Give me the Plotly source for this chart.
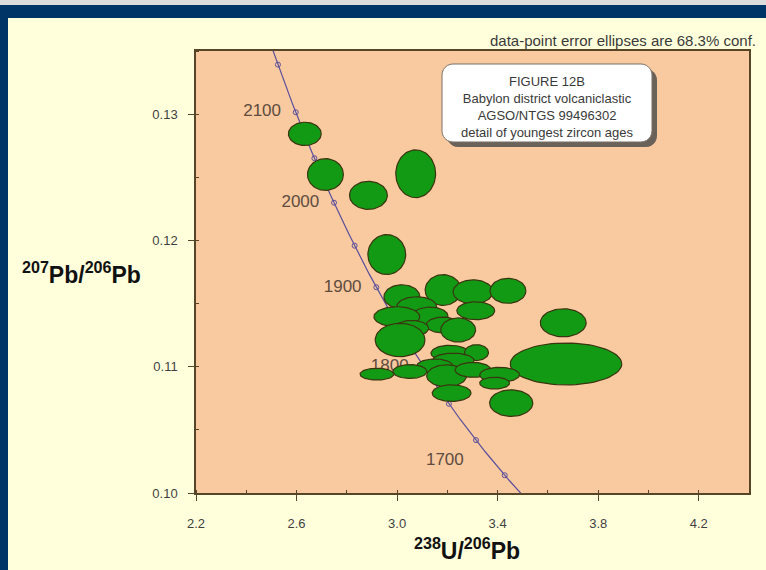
import numpy as np
import plotly.graph_objects as go

# ---------------- data ----------------
# error ellipses: centre (238U/206Pb, 207Pb/206Pb) and half-axes
ell_x = [2.633, 2.715, 2.886, 3.074, 2.959,
         3.183, 3.302, 3.441, 3.313, 3.019, 3.078, 3.131, 2.999, 3.183, 3.243, 3.058, 3.012,
         3.661, 3.672,
         3.210, 3.316, 3.223, 3.150, 2.920, 3.051, 3.197, 3.302, 3.408, 3.388, 3.217, 3.454]
ell_y = [0.12844, 0.12522, 0.12357, 0.12528, 0.11888,
         0.11607, 0.11593, 0.11601, 0.11443, 0.11554, 0.11475, 0.11401, 0.11396, 0.11330, 0.11291, 0.11304, 0.11212,
         0.11348, 0.11022,
         0.11107, 0.11112, 0.11048, 0.11006, 0.10941, 0.10962, 0.10928, 0.10975, 0.10936, 0.10870, 0.10791, 0.10712]
ell_rx = [0.0653, 0.0713, 0.0752, 0.0792, 0.0752,
          0.0713, 0.0792, 0.0713, 0.0752, 0.0713, 0.0792, 0.0713, 0.0911, 0.0673, 0.0693, 0.0673, 0.0990,
          0.0911, 0.2218,
          0.0752, 0.0475, 0.0832, 0.0713, 0.0673, 0.0673, 0.0792, 0.0713, 0.0792, 0.0594, 0.0772, 0.0859]
ell_ry = [0.00092, 0.00126, 0.00111, 0.00189, 0.00158,
          0.00122, 0.00095, 0.00099, 0.00071, 0.00095, 0.00079, 0.00071, 0.00079, 0.00063, 0.00095, 0.00063, 0.00132,
          0.00111, 0.00166,
          0.00063, 0.00063, 0.00059, 0.00055, 0.00047, 0.00055, 0.00087, 0.00059, 0.00059, 0.00047, 0.00066, 0.00105]

age_marks = list(range(1600, 2201, 50))        # Ma, small circles on concordia
age_labels = [1700, 1800, 1900, 2000, 2100]    # Ma, labelled ages
label_pos = ["bottom left", "middle left", "middle left", "middle left", "middle left"]

x_ticks = [2.2, 2.6, 3.0, 3.4, 3.8, 4.2]
y_ticks = [0.10, 0.11, 0.12, 0.13]

box_lines = ["FIGURE 12B", "Babylon district volcaniclastic",
             "AGSO/NTGS 99496302", "detail of youngest zircon ages"]
note_text = "data-point error ellipses are 68.3% conf."

# ---------------- concordia (Tera-Wasserburg) ----------------
L238, L235, U_RATIO = 1.55125e-4, 9.8485e-4, 137.88  # per Ma


def tw(t):
    t = np.asarray(t, dtype=float)
    e8 = np.exp(L238 * t) - 1
    e5 = np.exp(L235 * t) - 1
    return 1 / e8, e5 / e8 / U_RATIO


W, H = 766, 570
ML, MR, MT, MB = 196, 17, 51, 77
PW, PH = W - ML - MR, H - MT - MB


def px(x):
    return (x - ML) / PW


def py(y):
    return (H - MB - y) / PH


fig = go.Figure()

curve_c = "#5a4f9c"
tc = np.arange(1550, 2300, 2)
cx, cy = tw(tc)
fig.add_trace(go.Scatter(x=cx, y=cy, mode="lines",
                         line=dict(color=curve_c, width=1.2), hoverinfo="skip"))
mx, my = tw(age_marks)
fig.add_trace(go.Scatter(x=mx, y=my, mode="markers",
                         marker=dict(symbol="circle-open", size=5, color=curve_c, line=dict(width=1)),
                         hoverinfo="skip"))
lx, ly = tw(age_labels)
fig.add_trace(go.Scatter(x=lx, y=ly, mode="markers+text", text=[str(a) for a in age_labels],
                         textposition=label_pos,
                         marker=dict(size=[18, 22, 22, 22, 22], opacity=0),
                         textfont=dict(family="Liberation Sans, Arial", size=17, color="#5e4c3e"),
                         hoverinfo="skip"))

# ellipses
th = np.linspace(0, 2 * np.pi, 73)
for x0, y0, rx, ry in zip(ell_x, ell_y, ell_rx, ell_ry):
    fig.add_trace(go.Scatter(x=x0 + rx * np.cos(th), y=y0 + ry * np.sin(th),
                             mode="lines", fill="toself", fillcolor="#139a14",
                             line=dict(color="#3a3510", width=1.2), hoverinfo="skip"))

# ---------------- frame shapes ----------------
shapes = [
    dict(type="rect", xref="paper", yref="paper", x0=px(0), x1=px(W), y0=py(0), y1=py(5),
         fillcolor="#dcdcdc", line=dict(width=0), layer="above"),
    dict(type="rect", xref="paper", yref="paper", x0=px(0), x1=px(W), y0=py(5), y1=py(18),
         fillcolor="#003366", line=dict(width=0), layer="above"),
    dict(type="rect", xref="paper", yref="paper", x0=px(0), x1=px(8), y0=py(5), y1=py(H),
         fillcolor="#003366", line=dict(width=0), layer="above"),
]


def rounded(x0, y0, x1, y1, r):
    # pixel rectangle with rounded corners -> paper path
    pts = []
    for cxp, cyp, a0 in [(x1 - r, y0 + r, -90), (x1 - r, y1 - r, 0), (x0 + r, y1 - r, 90), (x0 + r, y0 + r, 180)]:
        for a in np.linspace(a0, a0 + 90, 7):
            pts.append((cxp + r * np.cos(np.radians(a)), cyp + r * np.sin(np.radians(a))))
    d = "M " + " L ".join(f"{px(a):.5f},{py(b):.5f}" for a, b in pts) + " Z"
    return d


shapes.append(dict(type="path", xref="paper", yref="paper", path=rounded(447, 69, 657, 147, 11),
                   fillcolor="#6a6258", line=dict(width=0), layer="above"))
shapes.append(dict(type="path", xref="paper", yref="paper", path=rounded(442, 64, 652, 142, 11),
                   fillcolor="#ffffff", line=dict(color="#7a7068", width=1), layer="above"))

annotations = [
    dict(xref="paper", yref="paper", x=px(547), y=py(107), text="<br>".join(box_lines),
         showarrow=False, xanchor="center", yanchor="middle",
         font=dict(family="Liberation Sans Narrow, Liberation Sans, Arial", size=13, color="#3a3a3a")),
    dict(xref="paper", yref="paper", x=px(758), y=py(40), text=note_text,
         showarrow=False, xanchor="right", yanchor="middle",
         font=dict(family="Liberation Sans Narrow, Liberation Sans, Arial", size=15, color="#3a3a3a")),
    dict(xref="paper", yref="paper", x=px(81), y=py(273),
         text="<b><sup>207</sup>Pb/<sup>206</sup>Pb</b>",
         showarrow=False, xanchor="center", yanchor="middle",
         font=dict(family="Liberation Sans, Arial", size=23, color="#111111")),
    dict(xref="paper", yref="paper", x=px(467), y=py(549),
         text="<b><sup>238</sup>U/<sup>206</sup>Pb</b>",
         showarrow=False, xanchor="center", yanchor="middle",
         font=dict(family="Liberation Sans, Arial", size=23, color="#111111")),
]

axis_c = "#574528"
tickfont = dict(family="Liberation Sans Narrow, Liberation Sans, Arial", size=13, color="#3f3f3f")

fig.update_layout(
    width=W, height=H,
    margin=dict(l=ML, r=MR, t=MT, b=MB),
    paper_bgcolor="#ffffdc",
    plot_bgcolor="#f9c9a0",
    showlegend=False,
    shapes=shapes,
    annotations=annotations,
    xaxis=dict(range=[2.2, 4.4], tickvals=x_ticks, ticktext=[f"{v:.1f}" for v in x_ticks],
               ticks="outside", ticklen=6, tickcolor=axis_c, tickwidth=1.2,
               showline=True, linecolor=axis_c, linewidth=1.5, mirror=True,
               showgrid=False, zeroline=False, tickfont=tickfont, ticklabelstandoff=12,
               minor=dict(dtick=0.2, tick0=2.2, ticks="inside", ticklen=3, tickcolor=axis_c, showgrid=False)),
    yaxis=dict(range=[0.10, 0.135], tickvals=y_ticks, ticktext=[f"{v:.2f}" for v in y_ticks],
               ticks="outside", ticklen=6, tickcolor=axis_c, tickwidth=1.2,
               showline=True, linecolor=axis_c, linewidth=1.5, mirror=True,
               showgrid=False, zeroline=False, tickfont=tickfont, ticklabelstandoff=8,
               minor=dict(dtick=0.005, tick0=0.10, ticks="inside", ticklen=3, tickcolor=axis_c, showgrid=False)),
)

fig.write_html("out.html", config={"displayModeBar": False},
               post_script="document.body.style.margin='0';document.body.style.overflow='hidden';")
